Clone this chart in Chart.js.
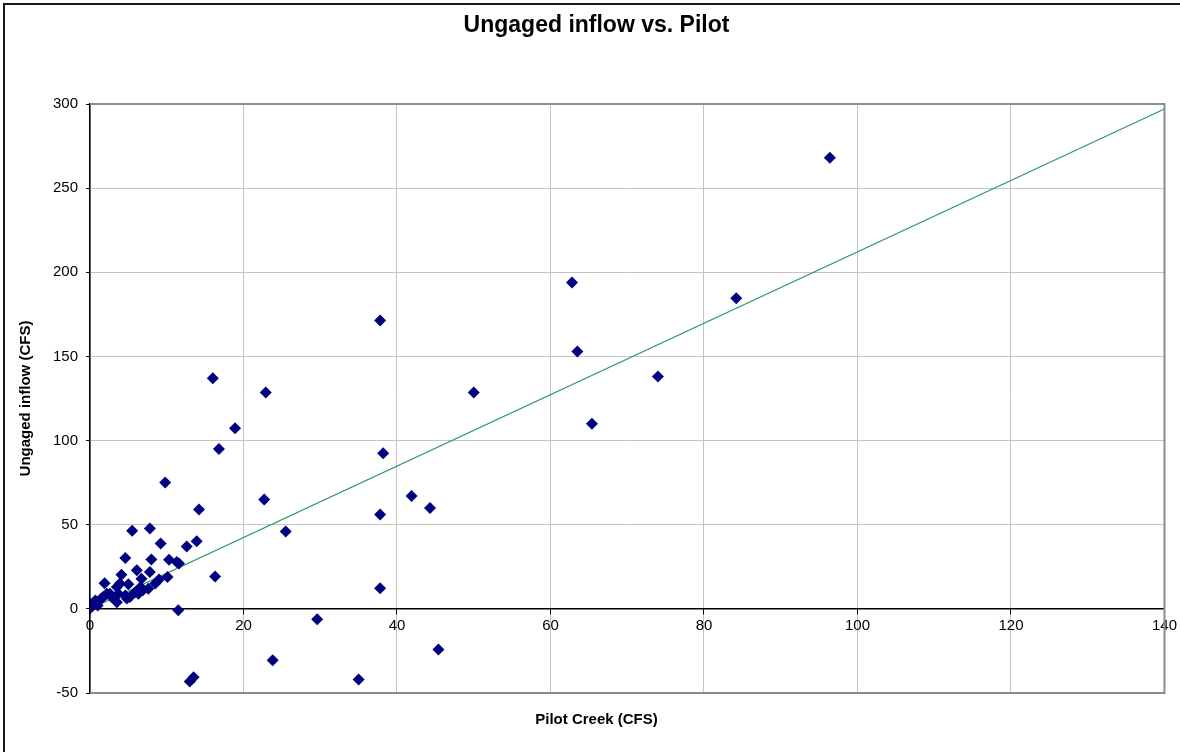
<!DOCTYPE html>
<html>
<head>
<meta charset="utf-8">
<script src="https://cdn.jsdelivr.net/npm/chart.js@4/dist/chart.umd.min.js"></script>
<style>
  html, body { margin: 0; padding: 0; background: #fff; }
  #wrap { width: 1180px; height: 752px; position: relative; }
</style>
</head>
<body>
<div id="wrap"><canvas id="chart" width="1180" height="752"></canvas></div>
<script>
"use strict";

// Pilot Creek flow (x) vs. ungaged inflow (y)
const pilotX = [
  96.4, 62.8, 84.2, 37.8, 63.5, 74.0, 16.0, 22.9, 50.0, 65.4,
  18.9, 16.8, 38.2, 9.8, 41.9, 22.7, 44.3, 14.2, 5.5, 7.8,
  25.5, 37.8, 9.2, 13.9, 12.6, 16.3, 37.8, 11.5, 29.6, 23.8,
  45.4, 35.0, 13.0, 13.5,
  4.6, 8.0, 10.3, 11.3, 11.6, 1.9, 4.1, 6.1, 7.8, 9.0,
  10.1, 6.7, 6.6, 5.9, 4.8, 3.9, 5.0, 3.5, 2.8, 1.7,
  2.6, 3.7, 4.6, 6.3, 7.6, 1.5, 0.7, 0.0, 0.2, 0.65,
  3.5, 5.2, 2.2, 6.9, 8.5, 1.0
];
const ungagedY = [
  268, 194, 184.5, 171.4, 153, 138, 137, 128.6, 128.6, 110,
  107.3, 95, 92.4, 75.1, 67, 65, 60, 59, 46.4, 47.8,
  46, 56, 38.9, 40.1, 37.1, 19.3, 12.2, -0.9, -6.2, -30.6,
  -24.1, -42, -43.1, -40.7,
  30.2, 29.4, 29.2, 27.8, 26.9, 15.2, 20.3, 22.9, 21.9, 17.5,
  18.9, 17.9, 13, 10, 6.1, 15, 14.6, 13, 7, 7,
  9, 9, 8, 9, 12, 6.1, 5, 3.1, 1.1, 3.1,
  4, 7, 9, 11, 15, 2
];

// linear trendline
const trendX = [0, 140];
const trendY = [0, 297];

const xTicks = [0, 20, 40, 60, 80, 100, 120, 140];
const yTicks = [-50, 0, 50, 100, 150, 200, 250, 300];

const FONT = "'Liberation Sans', Arial, Helvetica, sans-serif";

const frames = {
  id: 'frames',
  beforeDraw(chart) {
    const ctx = chart.ctx;
    ctx.save();
    ctx.strokeStyle = '#1a1a1a';
    ctx.lineWidth = 2;
    ctx.strokeRect(4, 4, 1300, 900);
    ctx.restore();
  },
  beforeDatasetsDraw(chart) {
    const a = chart.chartArea;
    const ctx = chart.ctx;
    ctx.save();
    ctx.strokeStyle = '#8c8c8c';
    ctx.lineWidth = 2;
    ctx.beginPath();
    ctx.moveTo(a.left, a.top);
    ctx.lineTo(a.right, a.top);
    ctx.lineTo(a.right, a.bottom);
    ctx.lineTo(a.left, a.bottom);
    ctx.stroke();
    ctx.restore();
  }
};

const ctx = document.getElementById('chart').getContext('2d');
new Chart(ctx, {
  type: 'scatter',
  data: {
    datasets: [
      {
        label: 'Ungaged inflow',
        data: pilotX.map((x, i) => ({ x: x, y: ungagedY[i] })),
        pointStyle: 'rectRot',
        pointRadius: 6,
        pointHoverRadius: 6,
        backgroundColor: '#000080',
        borderColor: '#000080',
        borderWidth: 0,
        order: 1
      },
      {
        type: 'line',
        label: 'Trend',
        data: trendX.map((x, i) => ({ x: x, y: trendY[i] })),
        borderColor: '#2e9a5e',
        borderWidth: 1.2,
        pointRadius: 0,
        fill: false,
        order: 2
      }
    ]
  },
  options: {
    responsive: false,
    animation: false,
    layout: { padding: { left: 13, right: 0, top: 0, bottom: 0 } },
    plugins: {
      legend: { display: false },
      tooltip: { enabled: false },
      title: {
        display: true,
        text: 'Ungaged inflow vs. Pilot',
        color: '#000',
        font: { family: FONT, size: 23, weight: 'bold' },
        padding: { top: 12.2, bottom: 64.2 }
      },
      subtitle: {
        display: true,
        position: 'bottom',
        text: 'Pilot Creek (CFS)',
        color: '#000',
        font: { family: FONT, size: 15, weight: 'bold' },
        padding: { top: 18, bottom: 23 }
      }
    },
    scales: {
      x: {
        type: 'linear',
        position: { y: 0 },
        min: 0,
        max: 140,
        afterBuildTicks: (scale) => { scale.ticks = xTicks.map(v => ({ value: v })); },
        ticks: { color: '#000', font: { family: FONT, size: 15 }, padding: 3, maxRotation: 0 },
        grid: { color: '#c4c4c4', lineWidth: 1, tickLength: 5, tickColor: '#000' },
        border: { color: '#000', width: 1.5 }
      },
      y: {
        type: 'linear',
        position: 'left',
        min: -50,
        max: 300,
        afterBuildTicks: (scale) => { scale.ticks = yTicks.map(v => ({ value: v })); },
        afterFit: (scale) => { scale.width = 77; },
        title: {
          display: true,
          text: 'Ungaged inflow (CFS)',
          color: '#000',
          font: { family: FONT, size: 15, weight: 'bold' },
          padding: { top: 3.5, bottom: 4 }
        },
        ticks: { color: '#000', font: { family: FONT, size: 15 }, padding: 8 },
        grid: { color: '#c4c4c4', lineWidth: 1, tickLength: 4, tickColor: '#000' },
        border: { color: '#000', width: 1.5 }
      },
      // empty right-hand strip, keeps the plot edge at the reference spot
      yr: {
        type: 'linear',
        position: 'right',
        min: -50,
        max: 300,
        afterFit: (scale) => { scale.width = 15; },
        ticks: { display: false },
        grid: { display: false },
        border: { display: false }
      }
    }
  },
  plugins: [frames]
});
</script>
</body>
</html>
